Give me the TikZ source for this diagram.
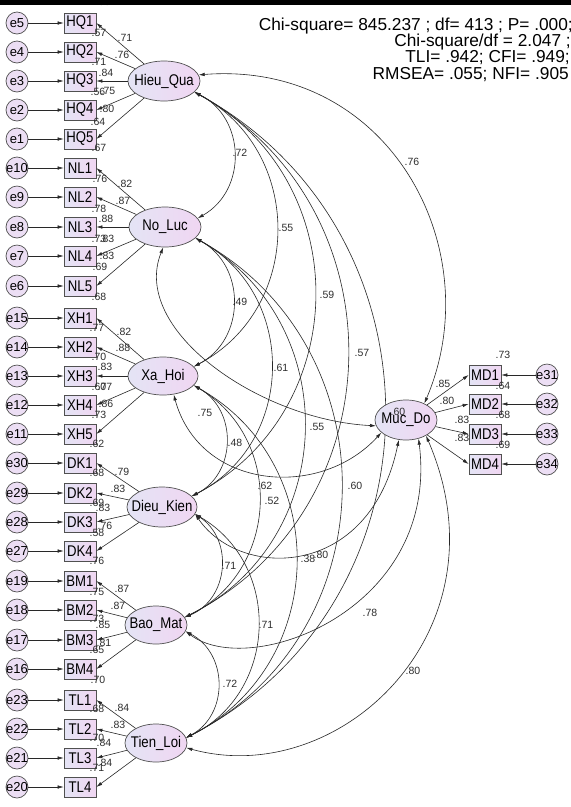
\documentclass[tikz,border=0pt]{standalone}
\usepackage{fontspec}
\setmainfont{Liberation Sans}
\newfontfamily\condfont[FakeStretch=0.85]{Liberation Sans}
\usetikzlibrary{shapes.geometric,arrows.meta,backgrounds}
\definecolor{edgec}{RGB}{80,80,80}
\definecolor{fl}{RGB}{228,228,245}
\definecolor{fr}{RGB}{240,214,242}
\definecolor{ef}{RGB}{236,222,244}
\definecolor{linec}{RGB}{40,40,40}
\definecolor{numc}{RGB}{45,45,45}
\newcommand\zb[1]{\makebox[0pt]{#1}}
\begin{document}
\begin{tikzpicture}[x=1pt,y=-1pt,
  lat/.style={ellipse,draw=edgec,line width=0.7pt,left color=fl,right color=fr,minimum width=72pt,minimum height=40pt,inner sep=0pt,font=\condfont\fontsize{15.5}{15.5}\selectfont},
  obs/.style={rectangle,draw=edgec,line width=0.7pt,left color=fl,right color=fr,minimum width=32pt,minimum height=20pt,inner sep=0pt,font=\condfont\fontsize{15.5}{15.5}\selectfont},
  err/.style={circle,draw=edgec,line width=0.7pt,fill=ef,minimum size=22pt,inner sep=0pt,font=\fontsize{13}{13}\selectfont},
  num/.style={inner sep=0pt,font=\fontsize{10.5}{10.5}\selectfont,text=numc},
  fitstat/.style={inner sep=0pt,anchor=base east,font=\fontsize{17.3}{17.3}\selectfont},
  reg/.style={draw=linec,line width=0.6pt,-{Latex[length=6pt,width=3.5pt]}},
  cov/.style={draw=linec,line width=0.6pt,{Latex[length=6pt,width=3.5pt]}-{Latex[length=6pt,width=3.5pt]}},
  covarc/.style={cov,bend left=62,looseness=1.16}
]
\begin{scope}[on background layer]
\fill[white] (0,0) rectangle (571,807);
\end{scope}
\useasboundingbox (0,0) rectangle (571,807);

% latent factors
\node[lat] (HQ) at (164,81) {\zb{Hieu\_Qua}};
\node[lat] (NL) at (165,227) {\zb{No\_Luc}};
\node[lat,minimum width=70pt,minimum height=38pt] (XH) at (163,376) {\zb{Xa\_Hoi}};
\node[lat,minimum width=70pt] (DK) at (162,507) {\zb{Dieu\_Kien}};
\node[lat,minimum width=62pt,minimum height=38pt] (BM) at (156,625) {\zb{Bao\_Mat}};
\node[lat,minimum width=62pt,minimum height=38pt] (TL) at (156,743) {\zb{Tien\_Loi}};
\node[lat,minimum width=62pt] (MD) at (406,420) {\zb{Muc\_Do}};

% left indicators
\foreach \f/\nm/\e/\y in {HQ/HQ1/e5/23,HQ/HQ2/e4/52,HQ/HQ3/e3/81,HQ/HQ4/e2/110,HQ/HQ5/e1/139,
  NL/NL1/e10/168,NL/NL2/e9/197,NL/NL3/e8/227,NL/NL4/e7/256,NL/NL5/e6/286,
  XH/XH1/e15/318,XH/XH2/e14/347,XH/XH3/e13/376,XH/XH4/e12/405,XH/XH5/e11/434,
  DK/DK1/e30/463,DK/DK2/e29/493,DK/DK3/e28/522,DK/DK4/e27/551,
  BM/BM1/e19/581,BM/BM2/e18/610,BM/BM3/e17/640,BM/BM4/e16/669,
  TL/TL1/e23/700,TL/TL2/e22/729,TL/TL3/e21/758,TL/TL4/e20/787}{
  \node[obs] (\nm) at (80,\y) {\zb{\nm}};
  \node[err] (\e) at (17,\y) {\zb{\e}};
  \draw[reg] (\e) -- (\nm.west);
  \draw[reg] (\f) -- (\nm.east);
}
% right indicators
\foreach \nm/\e/\y in {MD1/e31/375,MD2/e32/404,MD3/e33/434,MD4/e34/464}{
  \node[obs] (\nm) at (485,\y) {\zb{\nm}};
  \node[err] (\e) at (547,\y) {\zb{\e}};
  \draw[reg] (\e) -- (\nm.east);
  \draw[reg] (MD) -- (\nm.west);
}

% covariances
\begin{scope}[on background layer]
\draw[covarc] (HQ.-20) to (NL.15);
\draw[covarc] (HQ.-20) to (XH.17);
\draw[covarc] (HQ.-20) to (DK.20);
\draw[covarc] (HQ.-20) to (BM.15);
\draw[covarc] (HQ.-20) to (TL.10);
\draw[covarc] (NL.-20) to (XH.17);
\draw[covarc] (NL.-20) to (DK.20);
\draw[covarc] (NL.-20) to (BM.15);
\draw[covarc] (NL.-20) to (TL.10);
\draw[covarc] (XH.-17) to (DK.20);
\draw[covarc] (XH.-17) to (BM.15);
\draw[covarc] (XH.-17) to (TL.10);
\draw[covarc] (DK.-12) to (BM.15);
\draw[covarc] (DK.-12) to (TL.10);
\draw[covarc] (BM.-12) to (TL.10);
\draw[cov] (HQ.10) .. controls (390,60) and (490,250) .. (MD.42);
\draw[cov] (NL.-95) .. controls (130,330) and (260,420) .. (MD.191);
\draw[cov] (XH.-60) .. controls (200,490) and (320,500) .. (MD.207);
\draw[cov] (DK.-12) .. controls (240,580) and (370,580) .. (MD.250);
\draw[cov] (BM.-12) .. controls (250,680) and (440,610) .. (MD.304);
\draw[cov] (TL.-9) .. controls (340,790) and (510,630) .. (MD.322);
\end{scope}

% squared multiple correlations
\foreach \x/\y/\t [count=\i] in {103/2/.58,99/33/.57,99/62/.71,98/92/.56,98/122/.64,99/148/.67,
  100/179/.76,99/209/.78,99/239/.73,100/267/.69,99/297/.68,
  97/328/.77,99/357/.70,99/387/.60,99/415/.73,97/444/.62,
  97/473/.68,97/503/.69,97/533/.58,97/561/.76,
  97/592/.75,97/619/.73,97/650/.65,98/680/.70,
  97/709/.68,97/738/.70,97/768/.71,
  503/355/.73,503/386/.64,503/415/.68,503/445/.69}{
  \node[num] (r\i) at (\x,\y) {\t};
}
% loadings
\foreach \x/\y/\t [count=\i] in {125/38/.71,122/55/.76,106/73/.84,108/91/.75,107/109/.80,
  125/184/.82,123/201/.87,106/219/.88,107/239/.83,107/256/.83,
  124/332/.82,123/348/.88,105/367/.83,105/387/.77,106/404/.86,
  122/472/.79,118/489/.83,103/508/.83,105/526/.76,
  122/589/.87,118/606/.87,103/625/.85,104/643/.81,
  122/708/.84,118/725/.83,104/743/.84,105/763/.84,
  443/384/.85,447/401/.80,462/420/.83,462/438/.83}{
  \node[num] (w\i) at (\x,\y) {\t};
}
% covariance labels
\foreach \x/\y/\t [count=\i] in {240/153/.72,286/228/.55,327/295/.59,362/353/.57,398/412/.60,
  412/162/.76,240/302/.49,281/368/.61,317/427/.55,355/486/.60,
  205/413/.75,265/486/.62,235/443/.48,272/501/.52,308/559/.38,321/555/.80,
  229/566/.71,266/625/.71,230/684/.72,370/613/.78,413/671/.80}{
  \node[num] (c\i) at (\x,\y) {\t};
}

% fit statistics
\node[fitstat] (f1) at (573,30) {Chi-square= 845.237 ; df= 413 ; P= .000;};
\node[fitstat] (f2) at (571,46.7) {Chi-square/df = 2.047 ;};
\node[fitstat] (f3) at (570,62.7) {TLI= .942; CFI= .949;};
\node[fitstat] (f4) at (569,79) {RMSEA= .055; NFI= .905};

\fill[black] (0,0) rectangle (571,4.5);
\end{tikzpicture}
\end{document}
